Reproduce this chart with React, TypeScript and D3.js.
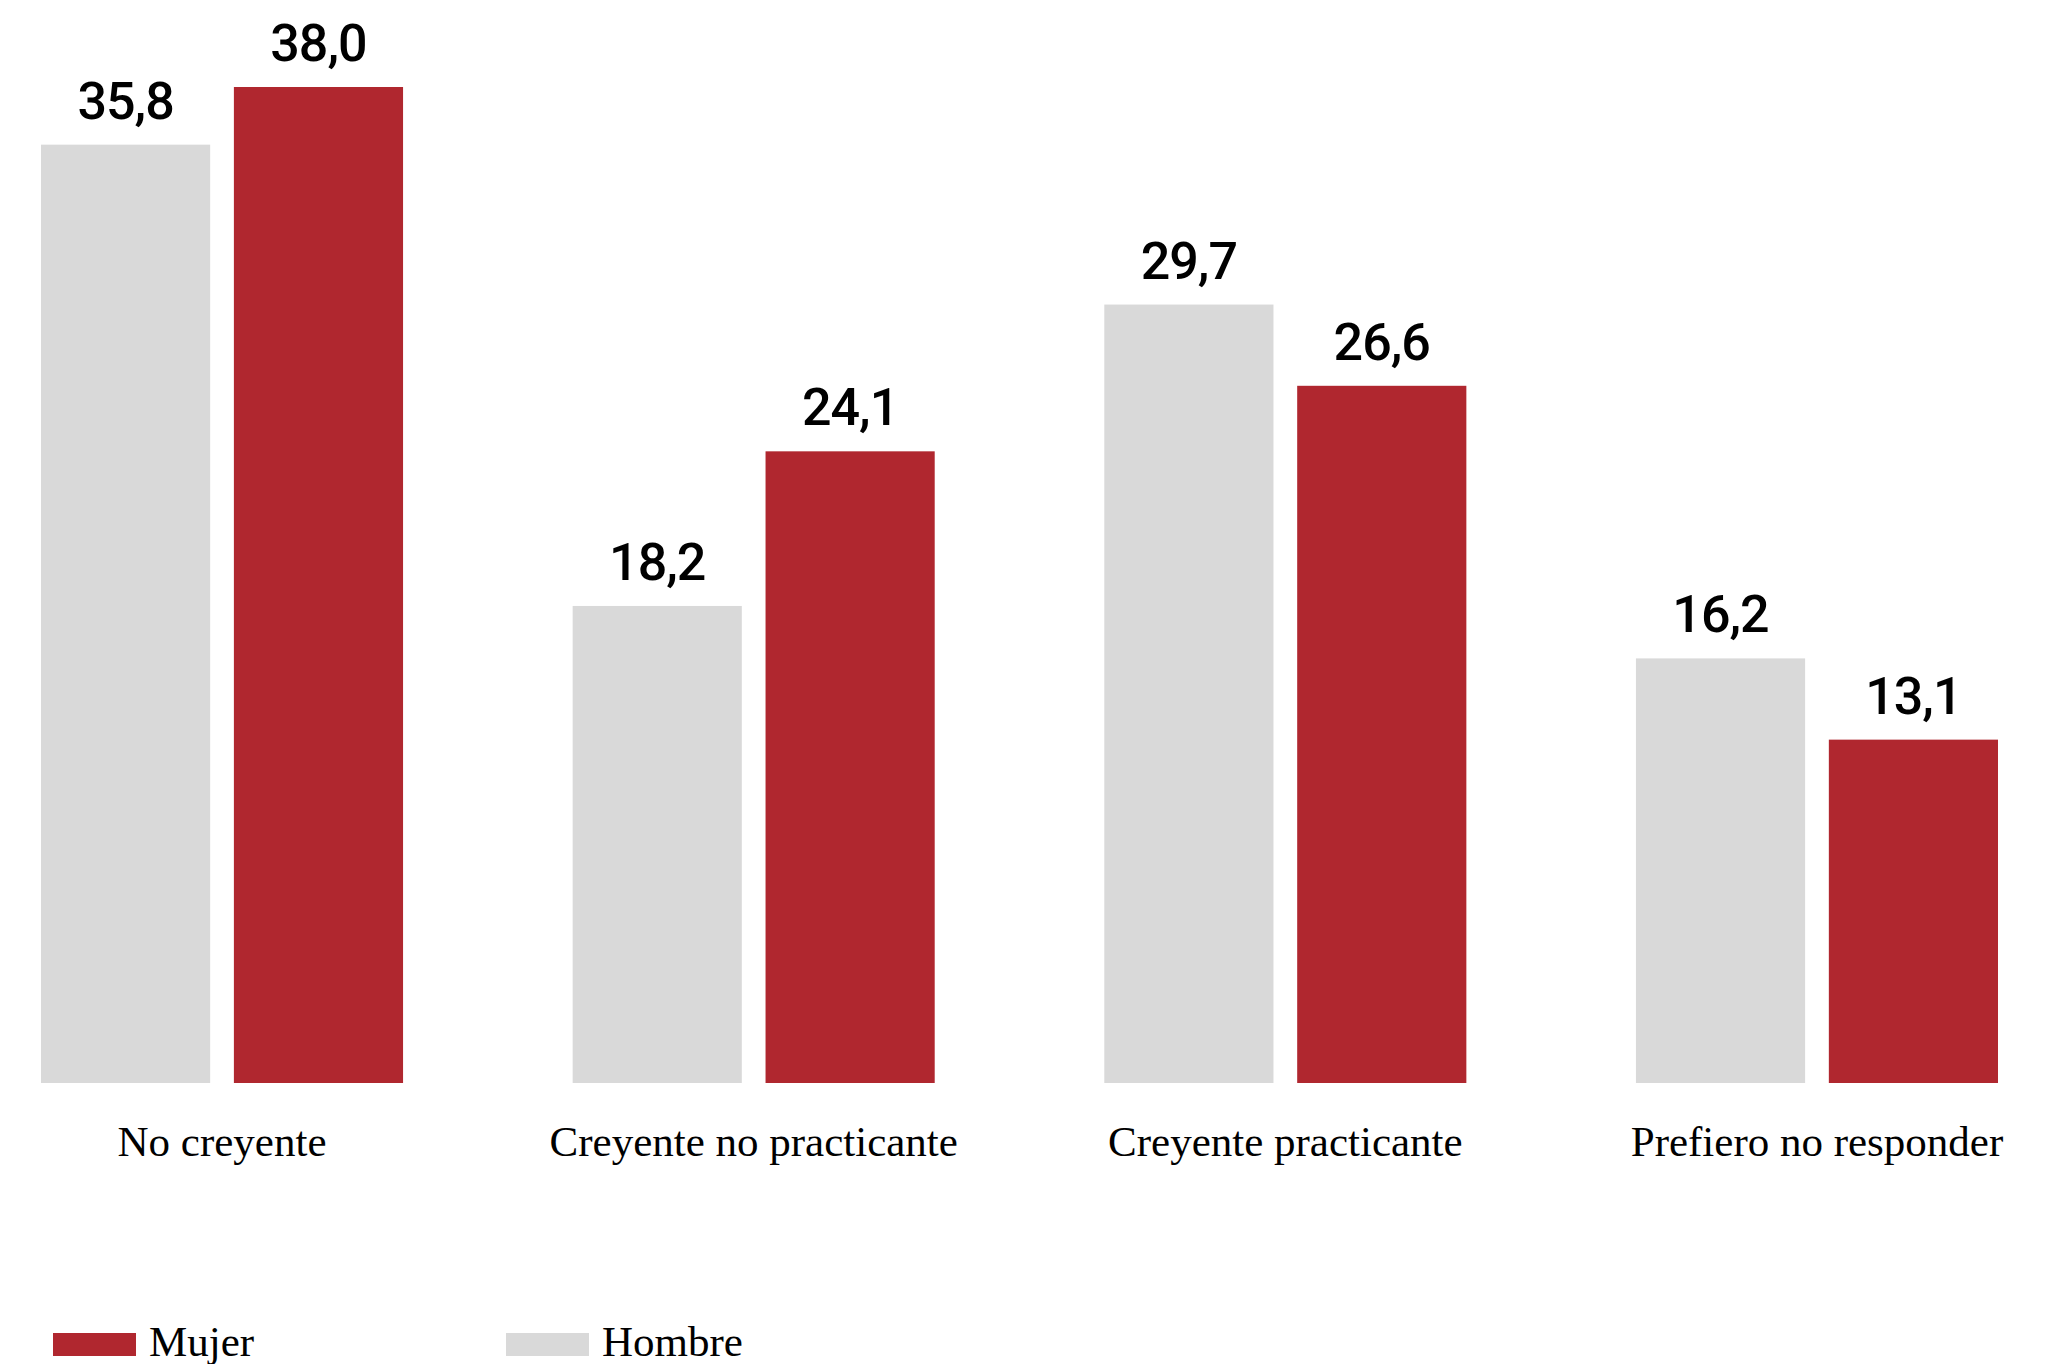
import * as d3 from 'd3';

// Chart data
const categories = ['No creyente', 'Creyente no practicante', 'Creyente practicante', 'Prefiero no responder'];
const series = ['Hombre', 'Mujer'];
const hombreValues = [35.8, 18.2, 29.7, 16.2];
const mujerValues = [38.0, 24.1, 26.6, 13.1];
const legendOrder = ['Mujer', 'Hombre'];

const colors: Record<string, string> = { Hombre: '#d9d9d9', Mujer: '#b0272f' };

const width = 2064;
const height = 1364;
const baseline = 1083;
const top = 87;

const numFont = 'Roboto, "Noto Sans", sans-serif';
const labelFont = '"Liberation Serif", "DejaVu Serif", serif';

const App = () => {
    const rows = categories.map((c, i) => ({ category: c, Hombre: hombreValues[i], Mujer: mujerValues[i] }));
    const maxVal = d3.max([...hombreValues, ...mujerValues]) as number;

    // group scale and inner bar scale
    const x0 = d3.scaleBand().domain(categories).range([41, 1998]).paddingInner(0.319).paddingOuter(0);
    const x1 = d3.scaleBand().domain(series).range([0, x0.bandwidth()]).paddingInner(0.123);
    const y = d3.scaleLinear().domain([0, maxVal]).range([baseline, top]);

    // legend placement
    const legendX = d3.scalePoint().domain(legendOrder).range([53, 506]);

    return (
        <svg width={width} height={height} style={{ position: 'absolute', left: 0, top: 0, background: '#fff' }}>
            {rows.map(r => (
                <g key={r.category} transform={`translate(${x0(r.category)},0)`}>
                    {series.map(s => (
                        <g key={s}>
                            <rect
                                x={x1(s)}
                                y={y(r[s])}
                                width={x1.bandwidth()}
                                height={baseline - y(r[s])}
                                fill={colors[s]}
                            />
                            <text
                                x={(x1(s) as number) + x1.bandwidth() / 2}
                                y={y(r[s]) - 26}
                                textAnchor="middle"
                                fontFamily={numFont}
                                fontWeight={500}
                                fontSize={52}
                                letterSpacing={-1}
                                fill="#000"
                            >
                                {r[s].toFixed(1).replace('.', ',')}
                            </text>
                        </g>
                    ))}
                    <text
                        x={x0.bandwidth() / 2}
                        y={1156}
                        textAnchor="middle"
                        fontFamily={labelFont}
                        fontSize={43}
                        fill="#000"
                    >
                        {r.category}
                    </text>
                </g>
            ))}

            {/* legend */}
            {legendOrder.map(s => (
                <g key={s} transform={`translate(${legendX(s)},1333)`}>
                    <rect x={0} y={0} width={83} height={23} fill={colors[s]} />
                    <text x={96} y={23} fontFamily={labelFont} fontSize={43} fill="#000">{s}</text>
                </g>
            ))}
        </svg>
    );
};

export default App;
